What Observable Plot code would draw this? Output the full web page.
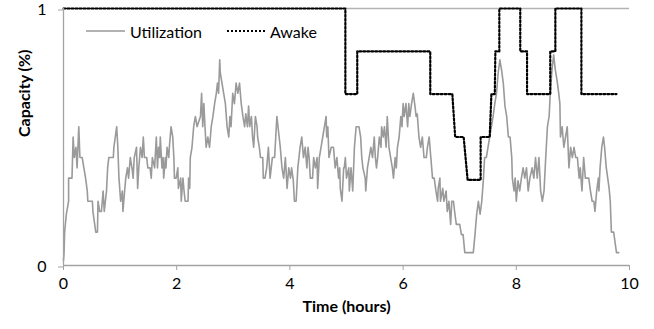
<!DOCTYPE html>
<html><head><meta charset="utf-8">
<script src="https://cdn.jsdelivr.net/npm/d3@7"></script>
<script src="https://cdn.jsdelivr.net/npm/@observablehq/plot@0.6"></script>
<style>
body{margin:0;background:#fff;font-family:Lato,"Open Sans",sans-serif;}
#wrap{position:relative;width:654px;height:329px;}
.item{position:absolute;display:flex;align-items:center;font-size:16px;color:#000;height:20px;}
.item svg{margin-right:5px;}
</style></head><body>
<div id="wrap">
  <div class="item" style="left:86px;top:21px;"><svg width="39" height="4"><line x1="0" x2="39" y1="2" y2="2" stroke="#999" stroke-width="1.6"/></svg>Utilization</div>
  <div class="item" style="left:227px;top:21px;"><svg width="38" height="4"><line x1="0" x2="38" y1="2" y2="2" stroke="#000" stroke-width="2.2" stroke-dasharray="2,2"/></svg>Awake</div>
</div>
<script>
// Utilization (time in hours, capacity fraction)
const utilTime = [
0.00,0.01,0.02,0.05,0.09,0.09,0.15,0.17,0.19,0.22,0.24,0.27,0.29,0.33,0.36,0.39,0.42,0.43,0.51,0.52,
0.57,0.60,0.61,0.64,0.67,0.70,0.72,0.76,0.78,0.80,0.88,0.89,0.94,0.96,0.98,1.01,1.04,1.05,1.08,1.10,
1.13,1.15,1.18,1.21,1.23,1.25,1.29,1.31,1.33,1.36,1.39,1.41,1.43,1.47,1.49,1.53,1.55,1.57,1.61,
1.64,1.66,1.68,1.70,1.71,1.74,1.76,1.77,1.80,1.81,1.83,1.86,1.87,1.90,1.93,1.95,1.96,1.99,2.02,2.03,
2.07,2.08,2.11,2.13,2.15,2.20,2.21,2.23,2.24,2.27,2.30,2.33,2.36,2.39,2.42,2.44,2.46,2.48,2.50,2.52,
2.55,2.58,2.61,2.64,2.67,2.70,2.72,2.74,2.76,2.77,2.80,2.83,2.86,2.89,2.92,2.94,2.96,2.99,3.02,3.05,
3.08,3.11,3.14,3.17,3.20,3.22,3.25,3.27,3.29,
3.32,3.34,3.36,3.39,3.42,3.43,3.46,3.48,3.52,3.53,3.56,3.59,3.62,3.65,3.67,3.69,3.73,3.75,3.77,3.79,
3.81,3.83,3.86,3.89,3.92,3.95,3.98,4.01,4.03,4.06,4.08,4.11,4.14,4.16,4.18,4.21,4.24,4.27,4.30,4.32,
4.34,4.36,4.40,4.42,4.45,4.48,4.49,4.52,4.55,4.58,4.61,4.64,4.65,4.67,4.69,4.73,4.77,4.80,4.83,4.86,
4.88,4.89,4.92,4.95,
4.96,4.98,5.00,5.04,5.05,5.08,5.11,5.14,5.17,5.22,5.25,5.27,5.29,5.33,5.34,5.37,5.40,5.43,5.46,5.49,
5.51,5.53,5.55,5.58,5.61,5.62,5.65,5.67,5.70,5.72,5.75,5.78,5.81,5.83,5.86,5.88,5.90,5.93,5.96,5.98,
6.00,6.02,6.05,6.08,6.10,6.12,6.15,6.18,6.21,6.23,6.25,6.28,6.31,6.34,6.37,6.41,6.43,6.46,6.49,6.52,
6.55,6.58,6.61,
6.62,6.65,6.66,6.70,6.72,6.76,6.78,6.81,6.84,6.86,6.89,6.91,6.94,7.00,7.03,7.06,7.09,7.24,7.27,7.30,
7.33,7.36,7.39,7.42,7.44,7.47,7.50,7.53,7.56,7.59,7.62,7.65,7.68,7.71,7.74,7.77,7.80,7.83,7.86,7.89,
7.92,7.93,7.96,7.98,8.00,8.03,8.06,8.09,8.12,8.15,8.18,8.21,8.24,8.27,
8.28,8.31,8.34,8.37,8.40,8.43,8.46,8.49,8.52,8.55,8.58,8.60,8.63,8.66,8.69,8.72,8.75,8.77,8.78,8.81,
8.84,8.87,8.90,8.93,8.96,8.99,9.02,9.05,9.08,9.11,9.13,9.16,9.19,9.22,9.28,9.31,9.34,9.37,9.39,9.42,
9.45,9.46,9.48,9.51,9.54,9.56,9.59,9.64,9.66,9.68,9.72,9.77,9.81
];
const utilCap = [
0.02,0.05,0.13,0.20,0.25,0.34,0.34,0.50,0.42,0.46,0.38,0.54,0.42,0.42,0.38,0.34,0.29,0.25,0.25,0.21,
0.13,0.13,0.25,0.21,0.21,0.29,0.21,0.29,0.38,0.42,0.42,0.46,0.54,0.46,0.34,0.25,0.29,0.21,0.29,0.34,
0.38,0.34,0.42,0.38,0.34,0.42,0.46,0.30,0.38,0.46,0.42,0.50,0.42,0.42,0.38,0.38,0.34,0.42,0.38,
0.50,0.38,0.46,0.42,0.50,0.38,0.42,0.34,0.42,0.38,0.46,0.42,0.46,0.54,0.50,0.42,0.34,0.34,0.38,0.30,
0.34,0.25,0.34,0.29,0.25,0.25,0.34,0.30,0.42,0.46,0.54,0.58,0.54,0.56,0.58,0.67,0.54,0.63,0.54,0.46,
0.50,0.46,0.54,0.58,0.63,0.67,0.71,0.67,0.80,0.75,0.71,0.67,0.63,0.54,0.50,0.58,0.54,0.67,0.63,0.71,
0.67,0.71,0.63,0.58,0.54,0.59,0.54,0.62,0.54,
0.58,0.50,0.46,0.58,0.54,0.50,0.46,0.42,0.42,0.34,0.34,0.38,0.46,0.34,0.38,0.42,0.42,0.50,0.58,0.54,
0.50,0.46,0.38,0.34,0.42,0.30,0.38,0.34,0.38,0.33,0.25,0.25,0.38,0.42,0.46,0.50,0.42,0.46,0.38,0.46,
0.42,0.34,0.34,0.42,0.38,0.42,0.30,0.42,0.46,0.50,0.54,0.58,0.50,0.54,0.42,0.46,0.46,0.38,0.42,0.34,
0.38,0.30,0.25,0.38,
0.38,0.42,0.34,0.38,0.29,0.38,0.29,0.46,0.54,0.54,0.50,0.42,0.38,0.34,0.29,0.38,0.42,0.46,0.42,0.50,
0.42,0.38,0.42,0.50,0.46,0.54,0.50,0.54,0.46,0.58,0.46,0.42,0.38,0.34,0.42,0.38,0.46,0.50,0.58,0.54,
0.63,0.58,0.63,0.54,0.63,0.58,0.63,0.67,0.62,0.58,0.59,0.50,0.46,0.50,0.42,0.42,0.46,0.50,0.42,0.34,
0.34,0.29,0.25,
0.30,0.34,0.25,0.30,0.25,0.29,0.21,0.25,0.16,0.25,0.25,0.21,0.16,0.16,0.12,0.12,0.05,0.05,0.12,0.20,
0.25,0.20,0.25,0.34,0.42,0.42,0.46,0.50,0.54,0.58,0.63,0.67,0.75,0.80,0.76,0.71,0.62,0.58,0.50,0.50,
0.42,0.34,0.29,0.34,0.25,0.33,0.29,0.34,0.38,0.34,0.38,0.29,0.34,0.37,
0.38,0.34,0.42,0.34,0.42,0.29,0.25,0.29,0.42,0.54,0.58,0.67,0.76,0.82,0.76,0.72,0.67,0.63,0.50,0.54,
0.46,0.50,0.54,0.38,0.46,0.42,0.46,0.42,0.42,0.34,0.38,0.29,0.42,0.34,0.34,0.29,0.25,0.25,0.21,0.29,
0.34,0.29,0.38,0.46,0.50,0.46,0.38,0.30,0.25,0.13,0.13,0.05,0.05
];
// Awake (time in hours, capacity fraction)
const awakeTime = [0,4.98,4.98,5.19,5.19,6.48,6.48,6.87,6.92,7.07,7.14,7.37,7.37,7.53,7.56,7.62,7.63,7.70,7.70,8.07,8.07,8.19,8.19,8.60,8.60,8.69,8.69,9.15,9.15,9.77];
const awakeCap  = [1,1,0.667,0.667,0.833,0.833,0.667,0.667,0.5,0.5,0.333,0.333,0.5,0.5,0.667,0.667,0.833,0.833,1,1,0.833,0.833,0.667,0.667,0.833,0.833,1,1,0.667,0.667];
const xTicks = [0,2,4,6,8,10];
const yTicks = [0,1];

const util = utilTime.map((t,i)=>({t, v: utilCap[i]}));
const awake = awakeTime.map((t,i)=>({t, v: awakeCap[i]}));

const axisGray = "#a3a3a3";
const chart = Plot.plot({
  width: 654, height: 329,
  marginLeft: 63, marginRight: 25, marginTop: 8, marginBottom: 64,
  x: {domain: [0, 10]},
  y: {domain: [0, 1]},
  style: {fontFamily: "Lato, 'Open Sans', sans-serif", fontSize: "16px", color: "black", background: "white", overflow: "visible"},
  marks: [
    Plot.ruleY([1], {stroke: "#b3b3b3", strokeWidth: 1.5}),
    Plot.line(util, {x: "t", y: "v", stroke: "#9a9a9a", strokeWidth: 1.6}),
    Plot.line(awake, {x: "t", y: "v", stroke: "black", strokeWidth: 2.2, strokeDasharray: "2,2"}),
    Plot.ruleX([0], {stroke: axisGray, strokeWidth: 1.3}),
    Plot.ruleY([0], {stroke: axisGray, strokeWidth: 1.3}),
    Plot.axisX({ticks: xTicks, tickSize: 5, tickPadding: 7, stroke: axisGray, fill: "black", label: null}),
    Plot.axisY({ticks: yTicks, tickSize: 5, tickPadding: 12, stroke: axisGray, fill: "black", label: null, dy: 1.5, tickFormat: d => String(d)}),
    Plot.text(["Time (hours)"], {frameAnchor: "bottom", dy: 46, fontWeight: "bold", fontSize: 16, fill: "black"}),
    Plot.text(["Capacity (%)"], {frameAnchor: "left", dx: -39, rotate: -90, fontWeight: "bold", fontSize: 16, fill: "black"})
  ]
});
document.getElementById("wrap").prepend(chart);
</script>
</body></html>
